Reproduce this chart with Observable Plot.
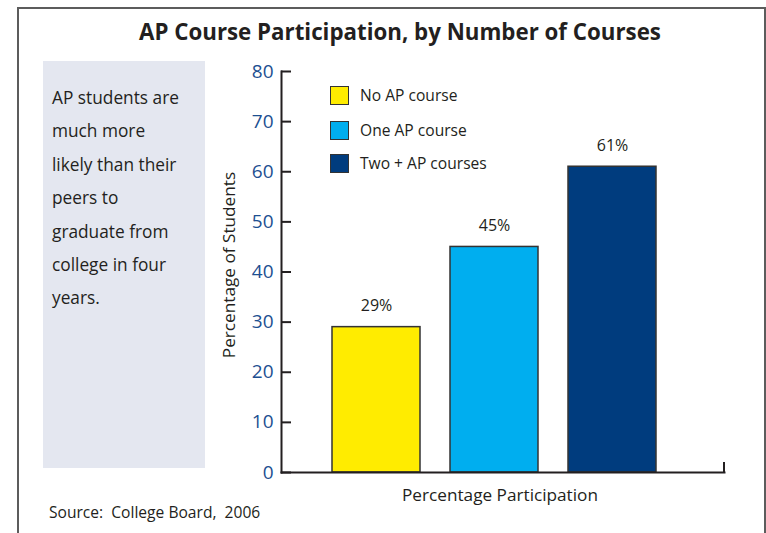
<!DOCTYPE html>
<html>
<head>
<meta charset="utf-8">
<script src="https://cdn.jsdelivr.net/npm/d3@7"></script>
<script src="https://cdn.jsdelivr.net/npm/@observablehq/plot@0.6"></script>
<style>
  html, body { margin: 0; padding: 0; background: #fff; }
  #wrap { position: relative; width: 766px; height: 533px; overflow: hidden; font-family: "Open Sans", sans-serif; color: #231f20; }
  #wrap svg { position: absolute; left: 0; top: 0; }
  .abs { position: absolute; }
  #border { left: 17px; top: 7px; width: 745px; height: 600px; border: 2px solid #5c5c5c; }
  #title { left: 0; width: 800px; top: 17px; text-align: center; font-weight: 700; font-size: 22.3px; line-height: 30px; }
  #panel { left: 43px; top: 61px; width: 162px; height: 407px; background: #e4e7f0; box-sizing: border-box; padding: 20px 0 0 9px; font-size: 17.3px; }
  #panel div { height: 33.4px; line-height: 33.4px; white-space: nowrap; }
  #source { left: 49px; top: 500px; font-size: 15.6px; line-height: 24px; white-space: pre; }
  .leg { position: absolute; left: 330px; height: 20px; display: flex; align-items: center; font-size: 15.6px; white-space: nowrap; }
  .sw { width: 17px; height: 17px; border: 1.5px solid #333; margin-right: 11px; }
</style>
</head>
<body>
<div id="wrap"></div>
<script>
const titleText = "AP Course Participation, by Number of Courses";
const categories = ["No AP course", "One AP course", "Two + AP courses"];
const values = [29, 45, 61];
const colors = ["#FFEC00", "#00AEEF", "#003C7E"];
const yTicks = [0, 10, 20, 30, 40, 50, 60, 70, 80];
const yLabel = "Percentage of Students";
const xLabel = "Percentage Participation";
const sideLines = ["AP students are", "much more", "likely than their", "peers to", "graduate from", "college in four", "years."];
const sourceText = "Source:  College Board,  2006";

const data = categories.map((c, i) => ({cat: c, val: values[i]}));
const ink = "#231f20";
const tickBlue = "#1d4f91";

const W = 766, H = 533, mL = 281, mR = 42, mT = 71, mB = 61;

const plot = Plot.plot({
  width: W, height: H,
  marginLeft: mL, marginRight: mR, marginTop: mT, marginBottom: mB,
  style: {background: "transparent", fontFamily: "Open Sans, sans-serif", color: ink},
  x: {domain: categories, insetLeft: 20, insetRight: 37, padding: 0.254, axis: null},
  y: {domain: [0, 80], axis: null},
  color: {domain: categories, range: colors},
  marks: [
    Plot.barY(data, {x: "cat", y: "val", fill: "cat", stroke: "#333", strokeWidth: 1.5}),
    Plot.text(data, {x: "cat", y: "val", text: d => d.val + "%", dy: -21, fontSize: 16, fill: ink}),
    Plot.axisY({ticks: yTicks, tickSize: 0, tickPadding: 8, fontSize: 19, label: null, fill: tickBlue}),
    Plot.axisY({ticks: yTicks, tickSize: -10, tickFormat: () => "", label: null, stroke: ink, strokeWidth: 2}),
    Plot.frame({anchor: "left", stroke: ink, strokeWidth: 2}),
    Plot.frame({anchor: "bottom", stroke: ink, strokeWidth: 2}),
    Plot.text([yLabel], {frameAnchor: "left", textAnchor: "middle", rotate: -90, dx: -52, dy: -7, fontSize: 17.2, fill: ink}),
    Plot.text([xLabel], {frameAnchor: "bottom", dy: 28, dx: -3, fontSize: 17.2, fill: ink})
  ]
});

// small closing tick at the right end of the x axis
const y0 = plot.scale("y").apply(0);
d3.select(plot).append("line")
  .attr("x1", W - mR).attr("x2", W - mR)
  .attr("y1", y0 - 10).attr("y2", y0 + 1)
  .attr("stroke", ink).attr("stroke-width", 2);

const wrap = document.getElementById("wrap");
wrap.appendChild(plot);

const border = document.createElement("div");
border.className = "abs"; border.id = "border";
wrap.appendChild(border);

const title = document.createElement("div");
title.className = "abs"; title.id = "title"; title.textContent = titleText;
wrap.appendChild(title);

const panel = document.createElement("div");
panel.className = "abs"; panel.id = "panel";
sideLines.forEach(l => { const d = document.createElement("div"); d.textContent = l; panel.appendChild(d); });
wrap.appendChild(panel);

const src = document.createElement("div");
src.className = "abs"; src.id = "source"; src.textContent = sourceText;
wrap.appendChild(src);

const legTops = [85, 120, 153];
categories.forEach((c, i) => {
  const row = document.createElement("div");
  row.className = "leg"; row.style.top = legTops[i] + "px";
  const sw = document.createElement("div");
  sw.className = "sw"; sw.style.background = colors[i];
  row.appendChild(sw);
  const t = document.createElement("span"); t.textContent = c;
  row.appendChild(t);
  wrap.appendChild(row);
});
</script>
</body>
</html>
